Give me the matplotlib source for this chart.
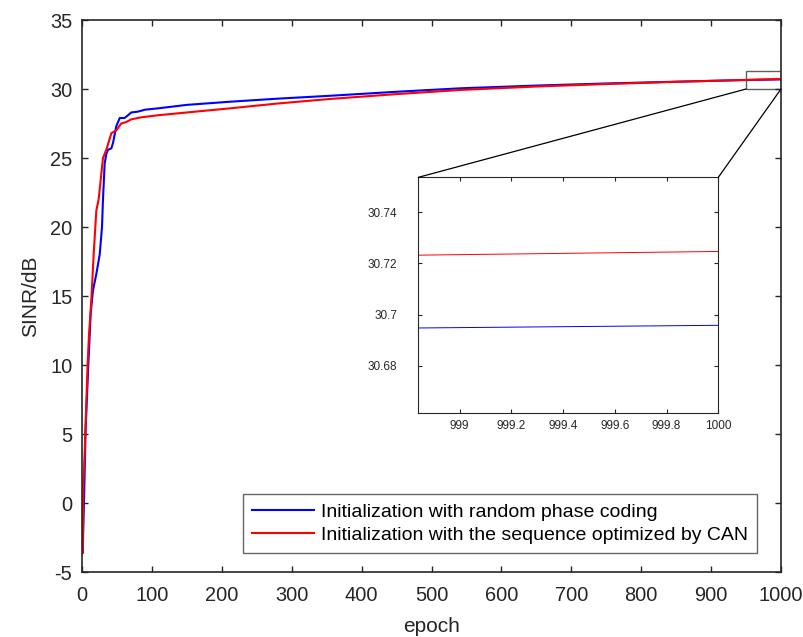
import numpy as np
import matplotlib
matplotlib.use("Agg")
import matplotlib.pyplot as plt
from matplotlib.patches import Rectangle, ConnectionPatch

plt.rcParams['font.family'] = ['Liberation Sans', 'DejaVu Sans']
plt.rcParams['axes.unicode_minus'] = False

# SINR curves
blue_epoch = [1, 2, 3, 5, 9, 12.5, 15.7, 20.5, 25.3, 28.6, 30, 32.4, 34.8, 37.2, 42, 44.4,
              49, 54, 61, 65.8, 70.5, 80, 90, 109, 150, 212, 280, 355, 450, 541,
              650, 750, 850, 950, 998, 1000]
blue_sinr = [-3.6, -1.5, 0.4, 5.1, 10.0, 13.8, 15.4, 16.6, 18.0, 20.0, 22.0, 24.6, 25.3, 25.6, 25.7, 26.1,
             27.3, 27.9, 27.9, 28.1, 28.3, 28.36, 28.5, 28.6, 28.85, 29.08, 29.3, 29.51, 29.8, 30.05,
             30.25, 30.4, 30.53, 30.65, 30.694, 30.6958]

red_epoch = [1, 2, 3, 5, 8, 10, 13.3, 17, 20.5, 23.8, 26.7, 30, 34.8, 42, 49, 56, 63, 70.5,
             85, 109, 150, 212, 280, 355, 450, 541, 650, 750, 850, 950, 998, 1000]
red_sinr = [-3.6, 1.7, 2.4, 5.5, 10.0, 12.2, 14.7, 18.3, 21.2, 22.0, 23.4, 25.0, 25.6, 26.8, 27.0, 27.5, 27.6, 27.8,
            27.95, 28.1, 28.3, 28.6, 28.95, 29.28, 29.63, 29.93, 30.18, 30.36, 30.52, 30.66, 30.7222, 30.7247]

labels = ['Initialization with random phase coding',
          'Initialization with the sequence optimized by CAN']

xticks = np.arange(0, 1001, 100)
yticks = np.arange(-5, 36, 5)
inset_xticks = [999, 999.2, 999.4, 999.6, 999.8, 1000]
inset_yticks = [30.68, 30.7, 30.72, 30.74]

axis_color = '#262626'

fig = plt.figure(figsize=(8.04, 6.37), dpi=100)
ax = fig.add_axes([0.102, 0.102, 0.8694, 0.8666])

ax.plot(blue_epoch, blue_sinr, color='#0000ff', lw=1.5, label=labels[0])
ax.plot(red_epoch, red_sinr, color='#ff0000', lw=1.5, label=labels[1])

ax.set_xlim(0, 1000)
ax.set_ylim(-5, 35)
ax.set_xticks(xticks)
ax.set_yticks(yticks)
ax.tick_params(direction='in', top=True, right=True, length=4.5, width=1,
               labelsize=14.4, colors=axis_color)
ax.tick_params(axis='x', pad=10)
ax.tick_params(axis='y', pad=7)
for s in ax.spines.values():
    s.set_color(axis_color)
    s.set_linewidth(1.2)
ax.set_xlabel('epoch', fontsize=15, color=axis_color, labelpad=9)
ax.set_ylabel('SINR/dB', fontsize=15, color=axis_color, labelpad=7)

leg = ax.legend(loc='lower right', bbox_to_anchor=(0.9415, 0.1319),
                bbox_transform=fig.transFigure, fontsize=14, frameon=True,
                fancybox=False, borderaxespad=0, handlelength=3.2,
                handletextpad=0.35, borderpad=0.45, labelspacing=0.3)
leg.get_frame().set_edgecolor('#404040')
leg.get_frame().set_linewidth(1.0)

# zoom box on the main axes
box_x0, box_x1, box_y0, box_y1 = 950, 1000, 30.0, 31.3
ax.add_patch(Rectangle((box_x0, box_y0), box_x1 - box_x0, box_y1 - box_y0,
                       fill=False, edgecolor='#606060', lw=1.0))

# inset
axin = fig.add_axes([0.5203, 0.3521, 0.3731, 0.3695])
axin.plot(blue_epoch, blue_sinr, color='#0000ff', lw=0.7)
axin.plot(red_epoch, red_sinr, color='#ff0000', lw=0.7)
axin.set_xlim(998.84, 1000)
axin.set_ylim(30.6616, 30.7537)
axin.set_xticks(inset_xticks)
axin.set_xticklabels(['999', '999.2', '999.4', '999.6', '999.8', '1000'])
axin.set_yticks(inset_yticks)
axin.set_yticklabels(['30.68', '30.7', '30.72', '30.74'])
axin.tick_params(direction='in', top=True, right=True, length=3, width=0.8,
                 labelsize=8.5, colors=axis_color)
axin.tick_params(axis='y', pad=15)
axin.tick_params(axis='x', pad=5)
for s in axin.spines.values():
    s.set_color(axis_color)
    s.set_linewidth(0.8)

for xa, xb in [(box_x0, 0.0), (box_x1, 1.0)]:
    con = ConnectionPatch(xyA=(xa, box_y0), coordsA=ax.transData,
                          xyB=(xb, 1.0), coordsB=axin.transAxes,
                          color='black', lw=0.9)
    fig.add_artist(con)

fig.savefig('out.png', dpi=100)
